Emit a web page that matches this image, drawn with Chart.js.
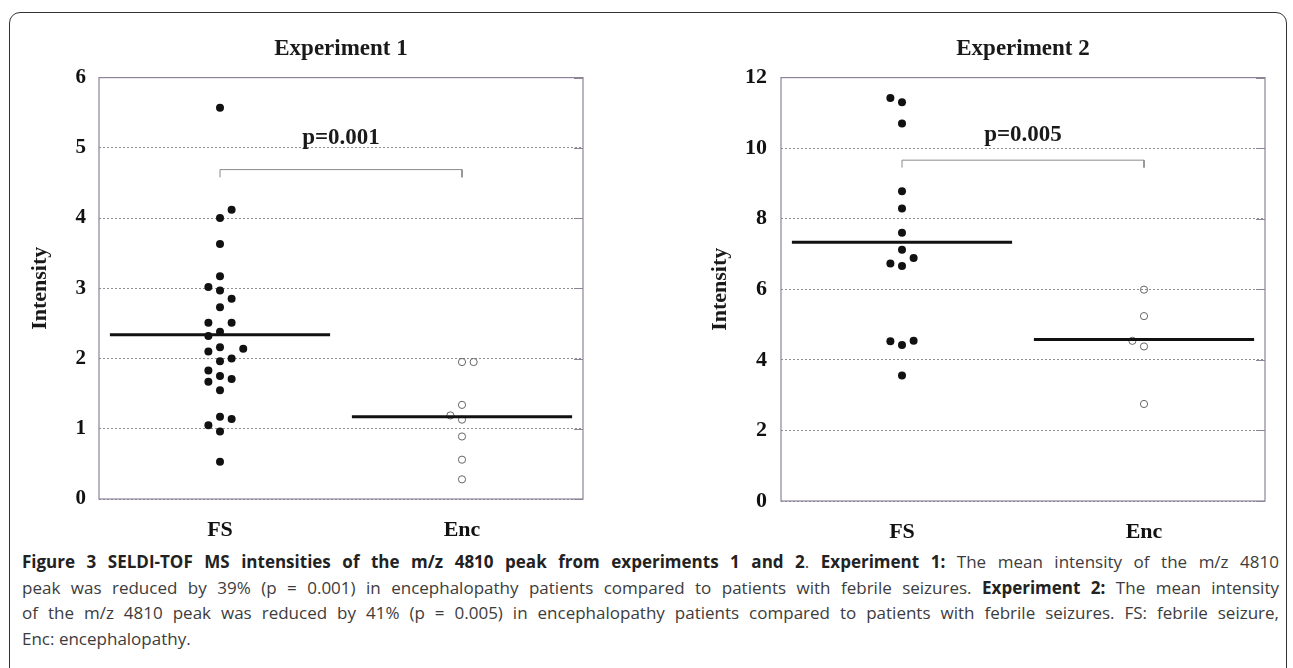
<!DOCTYPE html>
<html>
<head>
<meta charset="utf-8">
<script src="https://cdn.jsdelivr.net/npm/chart.js@4.4.0/dist/chart.umd.min.js"></script>
<style>
    html, body { margin: 0; padding: 0; background: #fff; overflow: hidden; }
    body { width: 1293px; height: 668px; position: relative; }
    #frame { position: absolute; left: 9px; top: 12px; width: 1276px; height: 720px;
             border: 1.5px solid #333; border-radius: 11px; }
    .box { position: absolute; top: 0; height: 545px; }
    #box1 { left: 0; width: 620px; }
    #box2 { left: 650px; width: 640px; }
    #caption { position: absolute; left: 22px; top: 549px; width: 1257px;
               font-family: "Open Sans", "Noto Sans", sans-serif; font-size: 17px; color: #3c3c3c; }
    #caption div { height: 25.5px; line-height: 25.5px; text-align: justify; text-align-last: justify; }
    #caption div.last { text-align-last: left; }
    #caption b { color: #222; }
</style>
</head>
<body>
<div id="frame"></div>
<div class="box" id="box1"><canvas id="chart1"></canvas></div>
<div class="box" id="box2"><canvas id="chart2"></canvas></div>
<div id="caption">
    <div><b>Figure 3 SELDI-TOF MS intensities of the m/z 4810 peak from experiments 1 and 2</b>. <b>Experiment 1:</b> The mean intensity of the m/z 4810</div>
    <div>peak was reduced by 39% (p = 0.001) in encephalopathy patients compared to patients with febrile seizures. <b>Experiment 2:</b> The mean intensity</div>
    <div>of the m/z 4810 peak was reduced by 41% (p = 0.005) in encephalopathy patients compared to patients with febrile seizures. FS: febrile seizure,</div>
    <div class="last">Enc: encephalopathy.</div>
</div>
<script>
const categories = ["FS", "Enc"];

// Experiment 1
const fs1Values = [5.57, 4.12, 4.00, 3.63, 3.17, 3.02, 2.97, 2.85, 2.73, 2.51, 2.51, 2.38, 2.32, 2.16,
                   2.10, 2.14, 2.00, 1.96, 1.83, 1.75, 1.67, 1.71, 1.55, 1.17, 1.14, 1.05, 0.96, 0.53];
const fs1Slots = [0, 1, 0, 0, 0, -1, 0, 1, 0, -1, 1, 0, -1, 0, -1, 2, 1, 0, -1, 0, -1, 1, 0, 0, 1, -1, 0, 0];
const enc1Values = [1.95, 1.95, 1.34, 1.19, 1.13, 0.89, 0.56, 0.28];
const enc1Slots = [0, 1, 0, -1, 0, 0, 0, 0];
const means1 = [2.34, 1.17];

// Experiment 2
const fs2Values = [11.42, 11.30, 10.70, 8.78, 8.29, 7.60, 7.12, 6.89, 6.73, 6.66, 4.53, 4.42, 4.54, 3.56];
const fs2Slots = [-1, 0, 0, 0, 0, 0, 0, 1, -1, 0, -1, 0, 1, 0];
const enc2Values = [5.99, 5.24, 4.54, 4.38, 2.75];
const enc2Slots = [0, 0, -1, 0, 0];
const means2 = [7.33, 4.58];

// significance brackets: [bar level, foot level]
const bracket1 = [4.69, 4.58];
const bracket2 = [9.66, 9.45];
const pValues = ["p=0.001", "p=0.005"];
const titles = ["Experiment 1", "Experiment 2"];

const serif = '"Liberation Serif", "Times New Roman", serif';
const slotStep = 0.048;
const meanHalf = 0.455;

function toPoints(values, slots, center) {
    let pts = [];
    for (let i = 0; i < values.length; i++)
        pts.push({x: center + slots[i] * slotStep, y: values[i]});
    return pts;
}

const boxFrame = {
    id: 'boxFrame',
    beforeDatasetsDraw(chart) {
        const {ctx, chartArea: a, scales: {y}} = chart;
        ctx.save();
        ctx.strokeStyle = '#8d8497';
        ctx.lineWidth = 1.2;
        ctx.strokeRect(a.left, a.top, a.right - a.left, a.bottom - a.top);
        ctx.beginPath();
        y.ticks.forEach(t => {
            const py = Math.round(y.getPixelForValue(t.value)) + 0.5;
            ctx.moveTo(a.right - 9, py);
            ctx.lineTo(a.right, py);
        });
        ctx.stroke();
        ctx.restore();
    }
};

const pLabel = {
    id: 'pLabel',
    afterDatasetsDraw(chart, args, opts) {
        const {ctx, scales: {x, y}} = chart;
        ctx.save();
        ctx.font = 'bold 23px ' + serif;
        ctx.fillStyle = '#1a1a1a';
        ctx.textAlign = 'center';
        ctx.textBaseline = 'alphabetic';
        ctx.fillText(opts.text, x.getPixelForValue(opts.x), y.getPixelForValue(opts.y));
        ctx.restore();
    }
};

function drawChart(canvasId, title, fs, enc, means, bracket, pText, pY, yMax, step, s) {
    const ctx = document.getElementById(canvasId);
    const centers = [0.5, 1.5];

    new Chart(ctx, {
        type: 'scatter',
        data: {
            datasets: [
                {
                    label: 'FS mean',
                    data: [{x: centers[0] - meanHalf, y: means[0]}, {x: centers[0] + meanHalf, y: means[0]}],
                    showLine: true, borderColor: '#111', borderWidth: 3, pointRadius: 0
                },
                {
                    label: 'Enc mean',
                    data: [{x: centers[1] - meanHalf, y: means[1]}, {x: centers[1] + meanHalf, y: means[1]}],
                    showLine: true, borderColor: '#111', borderWidth: 3, pointRadius: 0
                },
                {
                    label: 'FS',
                    data: toPoints(fs[0], fs[1], centers[0]),
                    pointRadius: 4, backgroundColor: '#111', borderColor: '#111', borderWidth: 0
                },
                {
                    label: 'Enc',
                    data: toPoints(enc[0], enc[1], centers[1]),
                    pointRadius: 3.6, backgroundColor: 'rgba(0,0,0,0)', borderColor: '#666', borderWidth: 1
                },
                {
                    label: 'bracket',
                    data: [{x: centers[0], y: bracket[1]}, {x: centers[0], y: bracket[0]},
                           {x: centers[1], y: bracket[0]}, {x: centers[1], y: bracket[1]}],
                    showLine: true, borderColor: '#8a8a8a', borderWidth: 1, pointRadius: 0
                }
            ]
        },
        options: {
            animation: false,
            responsive: true,
            maintainAspectRatio: false,
            events: [],
            layout: {padding: {left: 0, right: s.right, top: 0, bottom: 0}},
            plugins: {
                legend: {display: false},
                tooltip: {enabled: false},
                title: {
                    display: true,
                    text: title,
                    fullSize: false,
                    color: '#1a1a1a',
                    font: {family: serif, size: 23, weight: 'bold'},
                    padding: {top: 35, bottom: 15}
                },
                pLabel: {text: pText, x: 1.0, y: pY}
            },
            scales: {
                x: {
                    type: 'linear',
                    min: 0,
                    max: 2,
                    afterBuildTicks: (axis) => { axis.ticks = centers.map(v => ({value: v})); },
                    afterFit: (axis) => { axis.height = s.bottom; },
                    grid: {display: false, drawTicks: false},
                    border: {display: false},
                    ticks: {
                        autoSkip: false,
                        maxRotation: 0,
                        padding: 18,
                        color: '#111',
                        font: {family: serif, size: 22, weight: 'bold'},
                        callback: (value, index) => categories[index]
                    }
                },
                y: {
                    min: 0,
                    max: yMax,
                    afterFit: (axis) => { axis.width = s.axisWidth; },
                    ticks: {
                        stepSize: step,
                        padding: s.tickPad,
                        color: '#111',
                        font: {family: serif, size: s.tickSize, weight: 'bold'}
                    },
                    grid: {
                        color: '#8f8f8f',
                        lineWidth: 1,
                        drawTicks: false,
                        borderDash: [2, 2]
                    },
                    border: {display: false, dash: [2, 2]},
                    title: {
                        display: true,
                        text: 'Intensity',
                        color: '#1a1a1a',
                        font: {family: serif, size: 22, weight: 'bold'},
                        padding: {top: s.titlePad, bottom: 0}
                    }
                }
            }
        },
        plugins: [boxFrame, pLabel]
    });
}

drawChart('chart1', titles[0], [fs1Values, fs1Slots], [enc1Values, enc1Slots], means1, bracket1,
          pValues[0], 5.06, 6, 1,
          {right: 37, bottom: 46, axisWidth: 99, tickPad: 13, tickSize: 21, titlePad: 27});
drawChart('chart2', titles[1], [fs2Values, fs2Slots], [enc2Values, enc2Slots], means2, bracket2,
          pValues[1], 10.2, 12, 2,
          {right: 25, bottom: 44, axisWidth: 131, tickPad: 14, tickSize: 22, titlePad: 57});
</script>
</body>
</html>
